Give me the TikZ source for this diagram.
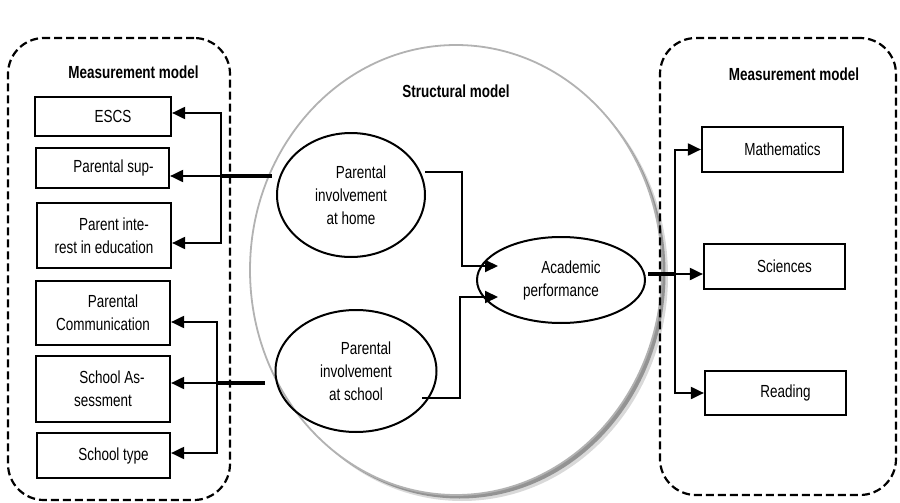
\documentclass[tikz,border=0pt]{standalone}
\usepackage{fontspec}
\setmainfont{Liberation Sans}[FakeStretch=0.77]
\usetikzlibrary{arrows.meta,shapes.geometric,shadows}
\begin{document}
\begin{tikzpicture}[x=1pt,y=-1pt,
  font=\fontsize{17.5}{23}\selectfont,
  mbox/.style={draw, line width=2.2pt, inner sep=0pt, align=center},
  ell/.style={draw, ellipse, line width=2pt, inner sep=0pt, align=center},
  dashbox/.style={draw, line width=2.2pt, dash pattern=on 8pt off 4pt, rounded corners=36pt, inner sep=0pt},
  lbl/.style={font=\fontsize{17.5}{23}\selectfont\bfseries, inner sep=0pt, anchor=base},
  arr/.style={line width=2pt, -{Triangle[length=13pt,width=12pt]}},
  thk/.style={line width=4.5pt}
]
\path[use as bounding box] (0,0) rectangle (900,503);

% structural model circle
\node[draw=black!30, line width=1.8pt, fill=white, ellipse, inner sep=0pt,
  minimum width=412, minimum height=450,
  drop shadow={shadow xshift=6pt, shadow yshift=-6pt, fill=black!50, opacity=0.3},
  drop shadow={shadow xshift=3.5pt, shadow yshift=-3.5pt, fill=black!60, opacity=0.6}] (sm) at (456,270) {};

% measurement model frames
\node[dashbox, minimum width=222, minimum height=462] (mmL) at (119,269) {};
\node[dashbox, minimum width=236, minimum height=457] (mmR) at (778,266.5) {};

% titles
\node[lbl] (tL) at (133.5,79) {Measurement model};
\node[lbl] (tR) at (794,81) {Measurement model};
\node[lbl] (tS) at (456,98) {Structural model};

% left boxes
\node[mbox, minimum width=136, minimum height=39] (escs) at (103,116.5) {\hspace*{20pt}ESCS};
\node[mbox, minimum width=133, minimum height=40] (sup) at (102.5,168) {\hspace*{22pt}Parental sup-};
\node[mbox, minimum width=134, minimum height=65] (pint) at (104,235.5) {\hspace*{20pt}Parent inte-\\rest in education};
\node[mbox, minimum width=134, minimum height=64] (comm) at (103,313) {\hspace*{20pt}Parental\\Communication};
\node[mbox, minimum width=134, minimum height=66] (assess) at (103,389) {\hspace*{18pt}School As-\\sessment};
\node[mbox, minimum width=133, minimum height=45] (stype) at (103.5,455.5) {\hspace*{20pt}School type};

% right boxes
\node[mbox, minimum width=141, minimum height=45] (math) at (772.5,149.5) {\hspace*{20pt}Mathematics};
\node[mbox, minimum width=141, minimum height=45] (sci) at (774.5,266.5) {\hspace*{20pt}Sciences};
\node[mbox, minimum width=141, minimum height=44] (read) at (775.5,393) {\hspace*{20pt}Reading};

% latent variables
\node[ell, minimum width=148, minimum height=124] (home) at (351,195) {\hspace*{20pt}Parental\\involvement\\at home};
\node[ell, minimum width=161, minimum height=122] (school) at (356,371) {\hspace*{20pt}Parental\\involvement\\at school};
\node[ell, minimum width=168, minimum height=86] (acad) at (561,280) {\hspace*{20pt}Academic\\performance};

% left upper connectors
\coordinate (jA) at (221,176);
\draw[thk] ([shift={(-79,-19)}]home.center) -- (jA);
\draw[arr] (jA) -- (sup.east |- jA);
\draw[arr] (jA) |- ([shift={(0,-3.5)}]escs.east);
\draw[arr] (jA) |- ([shift={(0,7.5)}]pint.east);

% left lower connectors
\coordinate (jB) at (217,383);
\draw[thk] ([shift={(-91,12)}]school.center) -- (jB);
\draw[arr] (jB) -- (assess.east |- jB);
\draw[arr] (jB) |- ([shift={(0,9)}]comm.east);
\draw[arr] (jB) |- ([shift={(0,-2.5)}]stype.east);

% structural paths
\draw[arr] ([shift={(74,-23)}]home.center) -- ++(37,0) |- ([shift={(-63,-14)}]acad.center);
\draw[arr] ([shift={(66,27)}]school.center) -- ++(38,0) |- ([shift={(-63,17)}]acad.center);

% right connectors
\coordinate (jC) at (675,274);
\draw[thk] ([shift={(2,-6)}]acad.east) -- (jC);
\draw[arr] (jC) -- (sci.west |- jC);
\draw[arr] (jC) |- (math.west);
\draw[arr] (jC) |- (read.west);
\end{tikzpicture}
\end{document}
